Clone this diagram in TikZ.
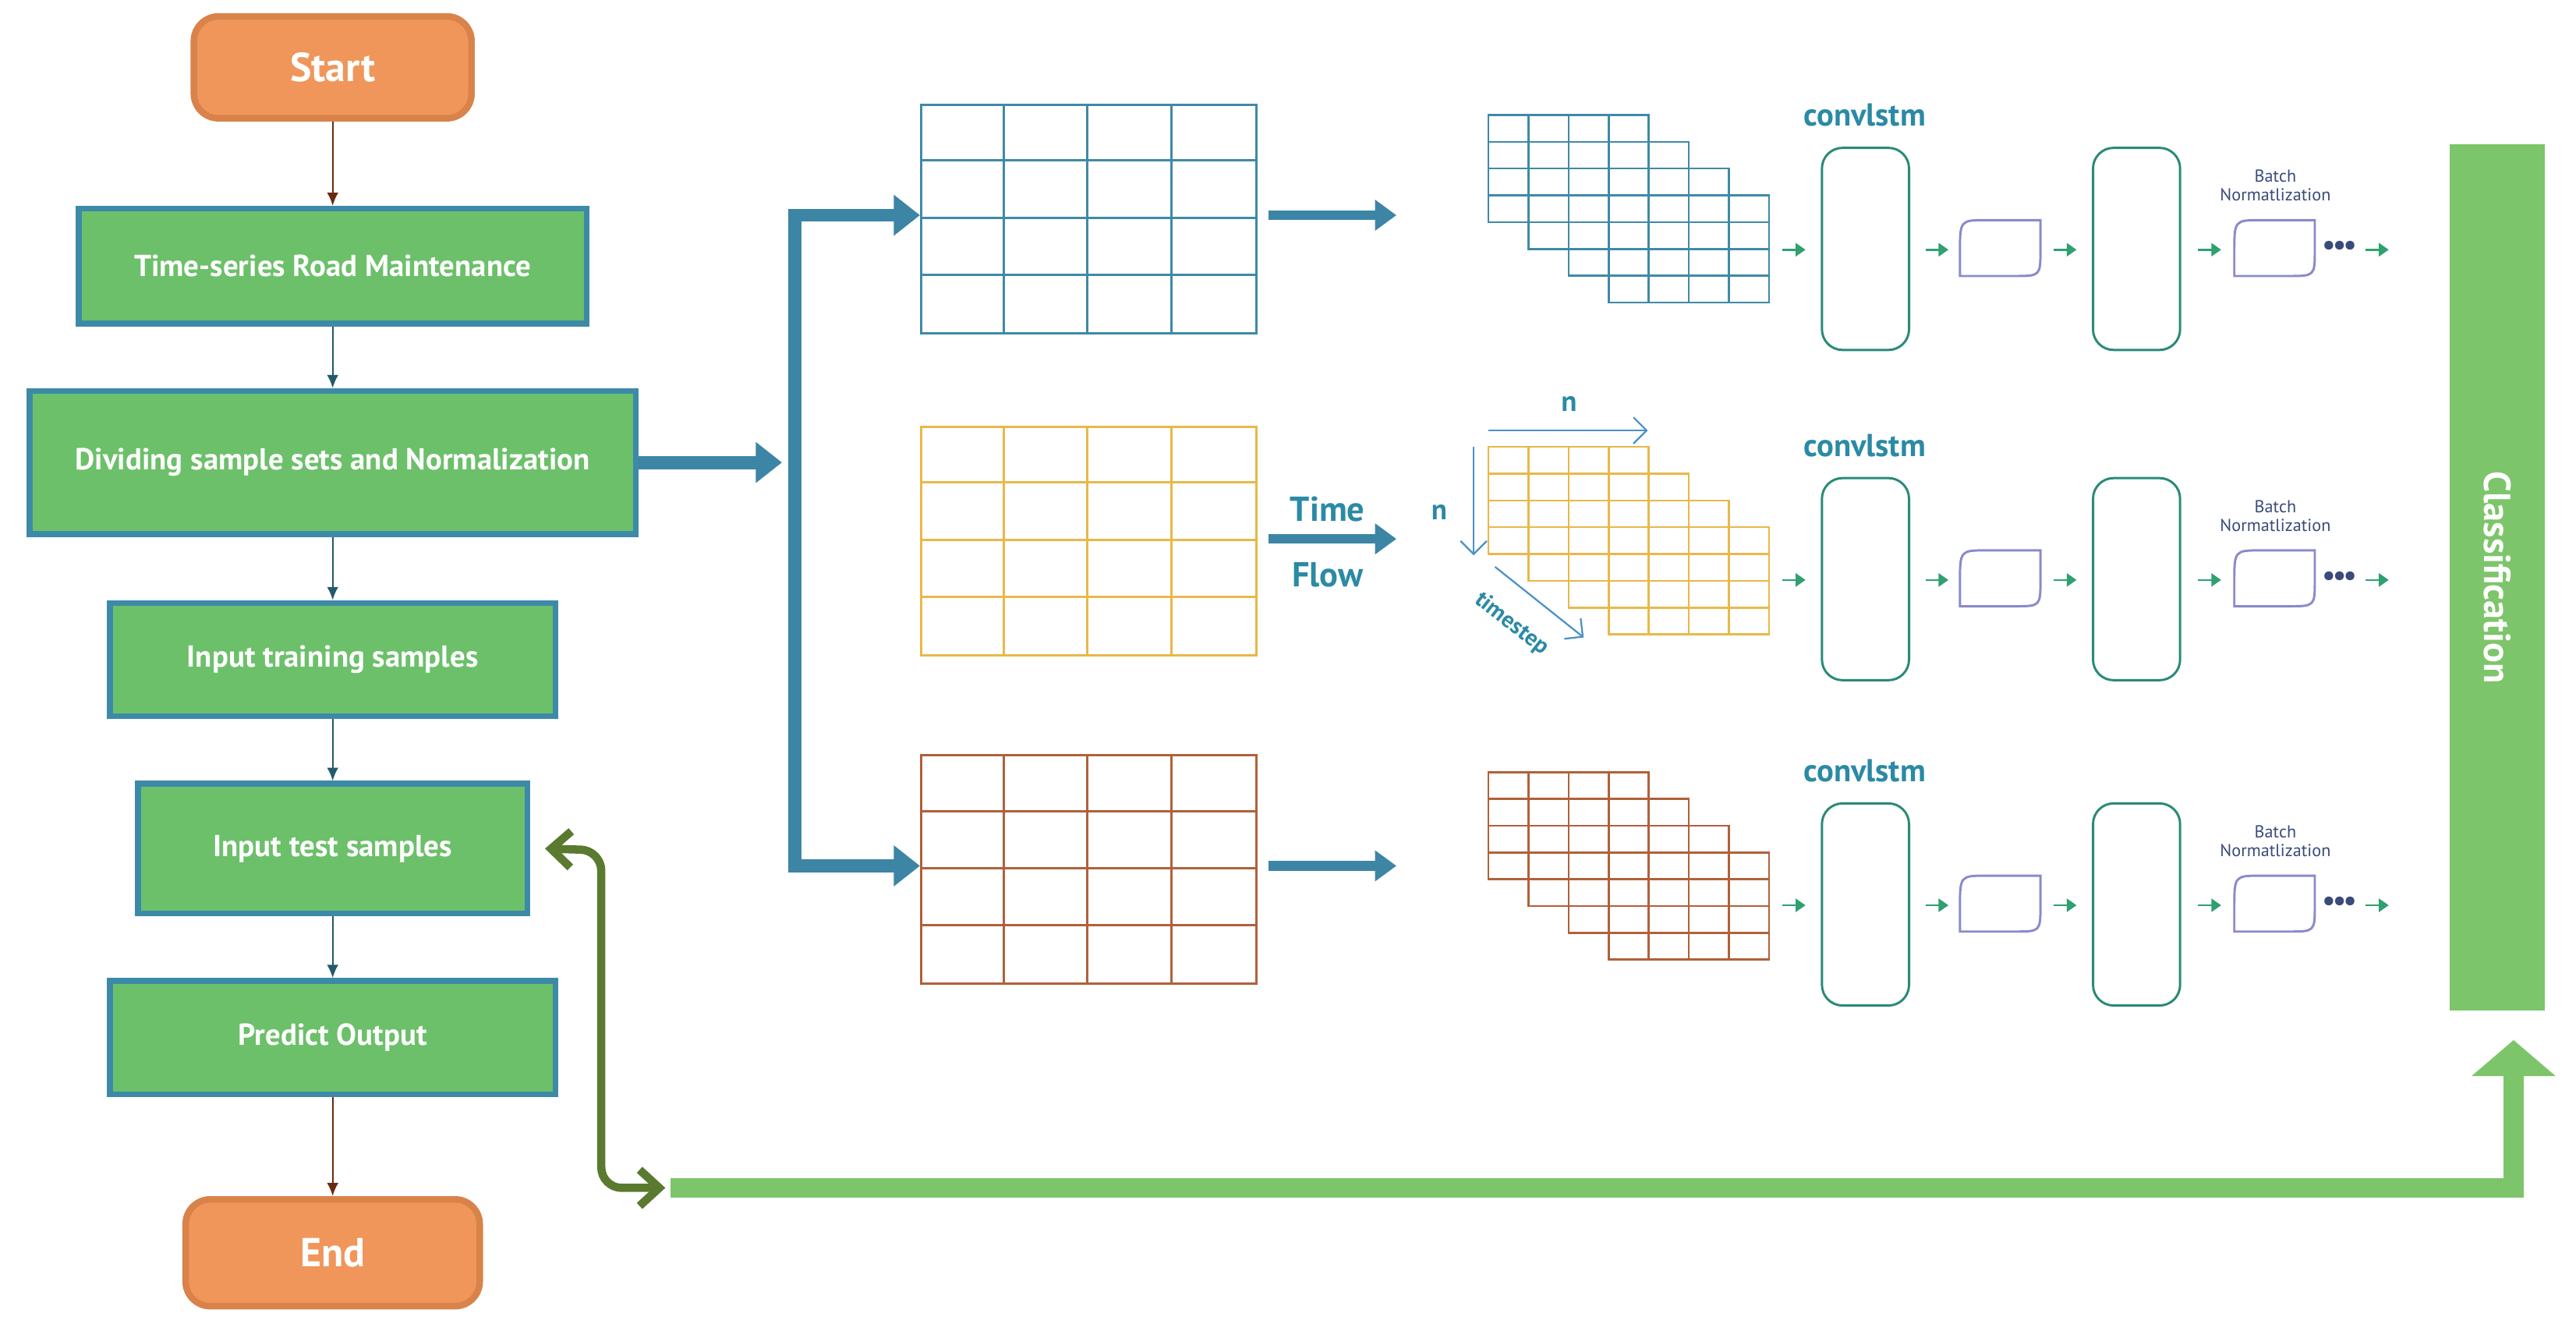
\documentclass[tikz,border=0pt]{standalone}
\usepackage{fontspec}
\setmainfont{PT Sans}
\usetikzlibrary{arrows.meta}
\definecolor{boxg}{HTML}{6CC06A}
\definecolor{boxb}{HTML}{3D8AA8}
\definecolor{orf}{HTML}{F0965A}
\definecolor{ord}{HTML}{D9834A}
\definecolor{brn}{HTML}{6B2A10}
\definecolor{tealdk}{HTML}{235A6B}
\definecolor{arrb}{HTML}{3D85A5}
\definecolor{gblue}{HTML}{3F8AA6}
\definecolor{gyel}{HTML}{E8B84A}
\definecolor{gbrn}{HTML}{B0613A}
\definecolor{txtb}{HTML}{2B8AA5}
\definecolor{lblue}{HTML}{4A90C8}
\definecolor{cbox}{HTML}{2A8A78}
\definecolor{lav}{HTML}{8A8ACB}
\definecolor{navy}{HTML}{3A4A7A}
\definecolor{sgreen}{HTML}{2FA070}
\definecolor{cls}{HTML}{7DC56A}
\definecolor{olive}{HTML}{5A7A30}
\tikzset{
 flow/.style={draw=boxb, line width=0.7mm, fill=boxg, text=white, font=\bfseries\fontsize{10.5}{12}\selectfont},
 term/.style={draw=ord, line width=0.8mm, fill=orf, rounded corners=3mm, text=white, font=\bfseries\fontsize{14}{16}\selectfont},
 thin/.style={-{Latex[length=1.6mm,width=1.4mm]}, line width=0.6pt},
 big/.style={arrb, line width=1.6mm, -{Triangle[length=3.2mm,width=4.8mm]}},
 mid/.style={arrb, line width=1.2mm, -{Triangle[length=2.6mm,width=3.6mm]}},
 sm/.style={sgreen, line width=0.7pt, -{Triangle[length=1.2mm,width=1.6mm]}},
 cl/.style={cbox, line width=0.8pt, rounded corners=2.5mm},
 conv/.style={text=txtb, font=\bfseries\fontsize{11}{12}\selectfont},
 bn/.style={text=navy, align=center, font=\fontsize{6}{6.5}\selectfont},
}
\begin{document}
\begin{tikzpicture}[x=0.2mm,y=-0.2mm]
\useasboundingbox (0,0) rectangle (1568,814);
% flowchart
\node[term, minimum width=33.8mm, minimum height=12.4mm] (start) at (202.5,41) {Start};
\node[flow, minimum width=61.8mm, minimum height=14mm] (ts) at (202.5,162) {Time-series Road Maintenance};
\node[flow, minimum width=73.8mm, minimum height=17.4mm] (div) at (202.5,281.5) {Dividing sample sets and Normalization};
\node[flow, minimum width=54.2mm, minimum height=13.8mm] (train) at (202.5,401.5) {Input training samples};
\node[flow, minimum width=47.4mm, minimum height=15.8mm] (test) at (202.5,516.5) {Input test samples};
\node[flow, minimum width=54.2mm, minimum height=13.8mm] (pred) at (202.5,631.5) {Predict Output};
\node[term, minimum width=35.8mm, minimum height=13mm] (end) at (202.5,762.5) {End};
\draw[thin, brn] (start) -- (ts);
\draw[thin, tealdk] (ts) -- (div);
\draw[thin, tealdk] (div) -- (train);
\draw[thin, tealdk] (train) -- (test);
\draw[thin, tealdk] (test) -- (pred);
\draw[thin, brn] (pred) -- (end);
% grids
\foreach \y/\c/\n in {63/gblue/g1,259/gyel/g2,459/gbrn/g3}{
  \node[draw=\c, line width=0.8pt, minimum width=40.8mm, minimum height=27.8mm, inner sep=0, anchor=north west] (\n) at (560,\y) {};
  \foreach \i in {1,2,3} \draw[\c, line width=0.8pt] (560+51*\i,\y) -- (560+51*\i,\y+139);
  \foreach \j in {1,2,3} \draw[\c, line width=0.8pt] (560,\y+34.75*\j) -- (764,\y+34.75*\j);
}
\draw[big] (div.east) -- (476,281.5);
\draw[arrb, line width=1.6mm] (484,127) -- (484,531);
\draw[big] (480,131) -- (g1.west|-0,131);
\draw[big] (480,527) -- (g3.west|-0,527);
% time flow arrows
\coordinate (a1) at (850,131);\coordinate (a2) at (850,328);\coordinate (a3) at (850,527);
\draw[mid] (772,131) -- (a1);
\draw[mid] (772,328) -- (a2);
\draw[mid] (772,527) -- (a3);
\node[text=txtb, font=\bfseries\fontsize{12}{14}\selectfont] (tl) at (808,310) {Time};
\node[text=txtb, font=\bfseries\fontsize{12}{14}\selectfont] (fl) at (808,350) {Flow};
% stacks
\foreach \y/\c in {70/gblue,272/gyel,470/gbrn}{
  \foreach \k in {0,...,3}{
    \pgfmathsetmacro\xx{906+24.4*\k}\pgfmathsetmacro\yy{\y+16.3*\k}
    \fill[white] (\xx,\yy) rectangle ++(97.6,65.2);
    \foreach \i in {1,2,3} \draw[\c, line width=0.7pt] (\xx+24.4*\i,\yy) -- ++(0,65.2);
    \foreach \j in {1,2,3} \draw[\c, line width=0.7pt] (\xx,\yy+16.3*\j) -- ++(97.6,0);
    \draw[\c, line width=0.7pt] (\xx,\yy) rectangle ++(97.6,65.2);
  }
}
% axes
\coordinate (n1a) at (906,262);\coordinate (n1b) at (1003,262);
\draw[lblue, line width=0.6pt, -{Straight Barb[length=1.6mm]}] (n1a) -- (n1b);
\node[text=txtb, font=\bfseries\fontsize{10}{12}\selectfont] (nl1) at (955,246) {n};
\coordinate (n2a) at (897,272);\coordinate (n2b) at (897,338);
\draw[lblue, line width=0.6pt, -{Straight Barb[length=1.6mm]}] (n2a) -- (n2b);
\node[text=txtb, font=\bfseries\fontsize{10}{12}\selectfont] (nl2) at (876,312) {n};
\coordinate (t1) at (910,345);\coordinate (t2) at (964,388);
\draw[lblue, line width=0.6pt, -{Straight Barb[length=1.6mm]}] (t1) -- (t2);
\node[text=txtb, rotate=-38, inner sep=0pt, font=\bfseries\fontsize{8}{10}\selectfont] (tsl) at (920,380) {timestep};
% convlstm rows
\foreach \y/\r in {70/1,271/2,469/3}{
  \node[conv] (cv\r) at (1135,\y) {convlstm};
  \pgfmathsetmacro\ym{\y+82}
  \draw[cl] (1109,\y+20) rectangle (1162,\y+143);
  \draw[cl] (1274,\y+20) rectangle (1327,\y+143);
  \foreach \xs in {1193,1360}{
    \draw[lav, line width=0.8pt] (\xs,\ym+2) .. controls (\xs,\ym-18) .. (\xs+16,\ym-18) -- (\xs+49,\ym-18) -- (\xs+49,\ym) .. controls (\xs+49,\ym+16) .. (\xs+33,\ym+16) -- (\xs,\ym+16) -- cycle;
  }
  \foreach \xa in {1085,1172,1250,1338,1440} \draw[sm] (\xa,\ym) -- +(14,0);
  \node[text=navy, font=\bfseries\fontsize{10}{10}\selectfont] (dots\r) at (1424,\ym-1) {\textbullet\hspace{-0.3mm}\textbullet\hspace{-0.3mm}\textbullet};
  \node[bn] (bn\r) at (1385,\y+43) {Batch\\Normatlization};
}
% classification
\node[fill=cls, minimum width=11.6mm, minimum height=105.4mm, inner sep=0] (cls) at (1520,351.5) {};
\node[rotate=-90, text=white, font=\bfseries\fontsize{13}{14}\selectfont] (clt) at (cls.center) {Classification};
\coordinate (gb) at (408,723);
\draw[cls, line width=2.4mm, -{Triangle[length=4.4mm,width=10mm]}] (gb) -| (1530,633);
% olive double arrow
\coordinate (ol) at (405,723);
\draw[olive, line width=1mm, rounded corners=2.5mm, {Straight Barb[length=2.4mm,width=4.4mm]}-{Straight Barb[length=2.4mm,width=4.4mm]}] (test.east) ++(9,0) -- (366,517.5) -- (366,723) -- (ol);
\end{tikzpicture}
\end{document}
